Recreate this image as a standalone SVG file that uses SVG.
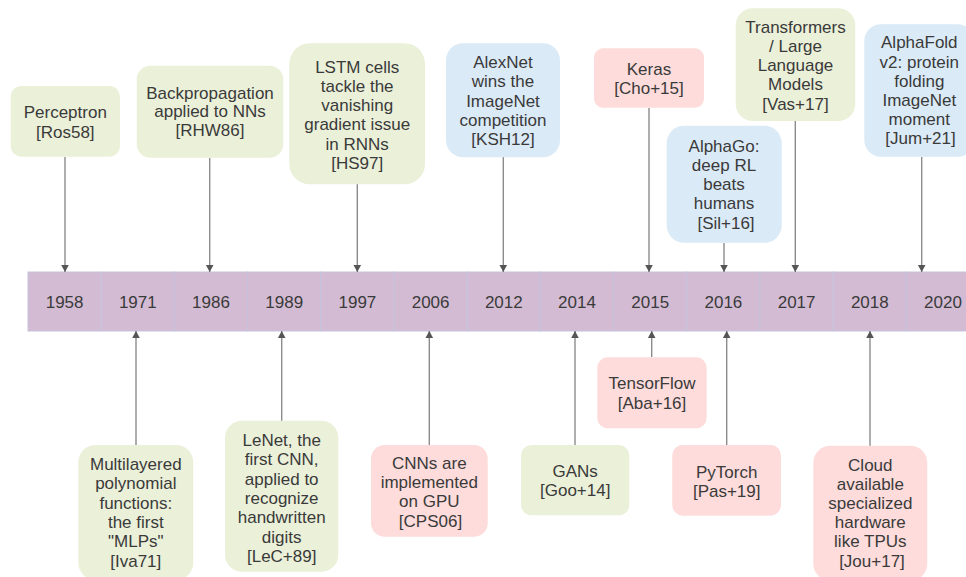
<svg xmlns="http://www.w3.org/2000/svg" width="966" height="577" viewBox="0 0 966 577">
<style>
text{font-family:"Liberation Sans",Arial,sans-serif;font-size:17px;fill:#3a3a3a;text-anchor:middle}
.g{fill:#ebf0d9}
.b{fill:#daeaf6}
.p{fill:#fddcdb}
.cell{fill:#d3bcd3;stroke:#c6c3dc;stroke-width:1}
.conn line{stroke:#8c8c8c;stroke-width:1.4;marker-end:url(#ah)}
</style>
<defs>
<marker id="ah" markerUnits="userSpaceOnUse" markerWidth="10" markerHeight="10" viewBox="0 -5 8 10" refX="7" refY="0" orient="auto">
<path d="M0,-3.8 L7,0 L0,3.8 z" fill="#555"/>
</marker>
</defs>
<rect width="966" height="577" fill="#fff"/>

<g id="timeline">
<rect class="cell" x="28" y="272" width="73.2" height="59"/>
<rect class="cell" x="101.2" y="272" width="73.2" height="59"/>
<rect class="cell" x="174.4" y="272" width="73.2" height="59"/>
<rect class="cell" x="247.6" y="272" width="73.2" height="59"/>
<rect class="cell" x="320.8" y="272" width="73.2" height="59"/>
<rect class="cell" x="394" y="272" width="73.2" height="59"/>
<rect class="cell" x="467.2" y="272" width="73.2" height="59"/>
<rect class="cell" x="540.4" y="272" width="73.2" height="59"/>
<rect class="cell" x="613.6" y="272" width="73.2" height="59"/>
<rect class="cell" x="686.8" y="272" width="73.2" height="59"/>
<rect class="cell" x="760" y="272" width="73.2" height="59"/>
<rect class="cell" x="833.2" y="272" width="73.2" height="59"/>
<rect class="cell" x="906.4" y="272" width="73.2" height="59"/>
<text x="64.6" y="308">1958</text>
<text x="137.8" y="308">1971</text>
<text x="211" y="308">1986</text>
<text x="284.2" y="308">1989</text>
<text x="357.4" y="308">1997</text>
<text x="430.6" y="308">2006</text>
<text x="503.8" y="308">2012</text>
<text x="577" y="308">2014</text>
<text x="650.2" y="308">2015</text>
<text x="723.4" y="308">2016</text>
<text x="796.6" y="308">2017</text>
<text x="869.8" y="308">2018</text>
<text x="943" y="308">2020</text>
</g>

<g class="conn" id="connectors">
<line x1="65" y1="157" x2="65" y2="272"/>
<line x1="209.7" y1="158" x2="209.7" y2="272"/>
<line x1="357.3" y1="184" x2="357.3" y2="272"/>
<line x1="503.3" y1="157" x2="503.3" y2="272"/>
<line x1="649" y1="108" x2="649" y2="272"/>
<line x1="724" y1="243" x2="724" y2="272"/>
<line x1="795.3" y1="121" x2="795.3" y2="272"/>
<line x1="921.7" y1="157" x2="921.7" y2="272"/>
<line x1="136" y1="445" x2="136" y2="331"/>
<line x1="281.7" y1="421" x2="281.7" y2="331"/>
<line x1="429.3" y1="445" x2="429.3" y2="331"/>
<line x1="575" y1="445" x2="575" y2="331"/>
<line x1="651.7" y1="357" x2="651.7" y2="331"/>
<line x1="726.7" y1="445" x2="726.7" y2="331"/>
<line x1="870" y1="446" x2="870" y2="331"/>
</g>

<g id="perceptron">
<rect class="g" x="10.7" y="86" width="109.3" height="70.7" rx="10.6"/>
<text x="65.3" y="118">Perceptron<tspan x="65.3" dy="19.5">[Ros58]</tspan></text>
</g>
<g id="backprop">
<rect class="g" x="136.7" y="65.7" width="146.6" height="92" rx="13.8"/>
<text x="210" y="98.7">Backpropagation<tspan x="210" dy="18.7">applied to NNs</tspan><tspan x="210" dy="18.7">[RHW86]</tspan></text>
</g>
<g id="lstm">
<rect class="g" x="289.3" y="43.3" width="135.7" height="141" rx="20.4"/>
<text x="357.2" y="72.7">LSTM cells<tspan x="357.2" dy="19.2">tackle the</tspan><tspan x="357.2" dy="19.2">vanishing</tspan><tspan x="357.2" dy="19.2">gradient issue</tspan><tspan x="357.2" dy="19.2">in RNNs</tspan><tspan x="357.2" dy="19.2">[HS97]</tspan></text>
</g>
<g id="alexnet">
<rect class="b" x="446" y="43.3" width="114" height="114" rx="17"/>
<text x="503" y="68">AlexNet<tspan x="503" dy="19.3">wins the</tspan><tspan x="503" dy="19.3">ImageNet</tspan><tspan x="503" dy="19.3">competition</tspan><tspan x="503" dy="19.3">[KSH12]</tspan></text>
</g>
<g id="keras">
<rect class="p" x="594" y="48.3" width="110" height="59.4" rx="8.9"/>
<text x="649" y="75">Keras<tspan x="649" dy="18.5">[Cho+15]</tspan></text>
</g>
<g id="alphago">
<rect class="b" x="666.7" y="125.7" width="115" height="117" rx="17.3"/>
<text x="724" y="151.7">AlphaGo:<tspan x="724" dy="19.2">deep RL</tspan><tspan x="724" dy="19.2">beats</tspan><tspan x="724" dy="19.2">humans</tspan><tspan x="726" dy="19.2">[Sil+16]</tspan></text>
</g>
<g id="transformers">
<rect class="g" x="735.7" y="8.3" width="119.6" height="112.7" rx="17"/>
<text x="795.5" y="32.7">Transformers<tspan x="795.5" dy="19.2">/ Large</tspan><tspan x="795.5" dy="19.2">Language</tspan><tspan x="795.5" dy="19.2">Models</tspan><tspan x="795.5" dy="19.2">[Vas+17]</tspan></text>
</g>
<g id="alphafold">
<rect class="b" x="864.3" y="24.3" width="110" height="132.4" rx="16.5"/>
<text x="919.3" y="48.3">AlphaFold<tspan x="919.3" dy="19.2">v2: protein</tspan><tspan x="919.3" dy="19.2">folding</tspan><tspan x="919.3" dy="19.2">ImageNet</tspan><tspan x="919.3" dy="19.2">moment</tspan><tspan x="920.5" dy="19.2">[Jum+21]</tspan></text>
</g>

<g id="mlp">
<rect class="g" x="78.3" y="445" width="115" height="135" rx="17.3"/>
<text x="135.8" y="470">Multilayered<tspan x="135.8" dy="19.3">polynomial</tspan><tspan x="135.8" dy="19.3">functions:</tspan><tspan x="135.8" dy="19.3">the first</tspan><tspan x="135.8" dy="19.3">"MLPs"</tspan><tspan x="135.8" dy="19.3">[Iva71]</tspan></text>
</g>
<g id="lenet">
<rect class="g" x="225" y="420.7" width="113.3" height="151" rx="17"/>
<text x="281.7" y="446">LeNet, the<tspan x="281.7" dy="19.3">first CNN,</tspan><tspan x="281.7" dy="19.3">applied to</tspan><tspan x="281.7" dy="19.3">recognize</tspan><tspan x="281.7" dy="19.3">handwritten</tspan><tspan x="281.7" dy="19.3">digits</tspan><tspan x="281.7" dy="19.3">[LeC+89]</tspan></text>
</g>
<g id="cnngpu">
<rect class="p" x="371" y="445" width="116.7" height="91.7" rx="13.8"/>
<text x="429.3" y="468.7">CNNs are<tspan x="429.3" dy="19.3">implemented</tspan><tspan x="429.3" dy="19.3">on GPU</tspan><tspan x="430.5" dy="19.3">[CPS06]</tspan></text>
</g>
<g id="gans">
<rect class="g" x="521" y="445" width="108.3" height="70.3" rx="10.5"/>
<text x="575.2" y="476.7">GANs<tspan x="575.2" dy="19.5">[Goo+14]</tspan></text>
</g>
<g id="tensorflow">
<rect class="p" x="597.3" y="357.3" width="109.4" height="71" rx="10.6"/>
<text x="652" y="389.3">TensorFlow<tspan x="652" dy="19.5">[Aba+16]</tspan></text>
</g>
<g id="pytorch">
<rect class="p" x="672.3" y="445" width="108.7" height="70.7" rx="10.6"/>
<text x="726.7" y="477.7">PyTorch<tspan x="726.7" dy="19">[Pas+19]</tspan></text>
</g>
<g id="cloud">
<rect class="p" x="813.3" y="445.7" width="114" height="135" rx="17"/>
<text x="870.3" y="471">Cloud<tspan x="870.3" dy="19.1">available</tspan><tspan x="870.3" dy="19.1">specialized</tspan><tspan x="870.3" dy="19.1">hardware</tspan><tspan x="870.3" dy="19.1">like TPUs</tspan><tspan x="872" dy="19.1">[Jou+17]</tspan></text>
</g>
</svg>
